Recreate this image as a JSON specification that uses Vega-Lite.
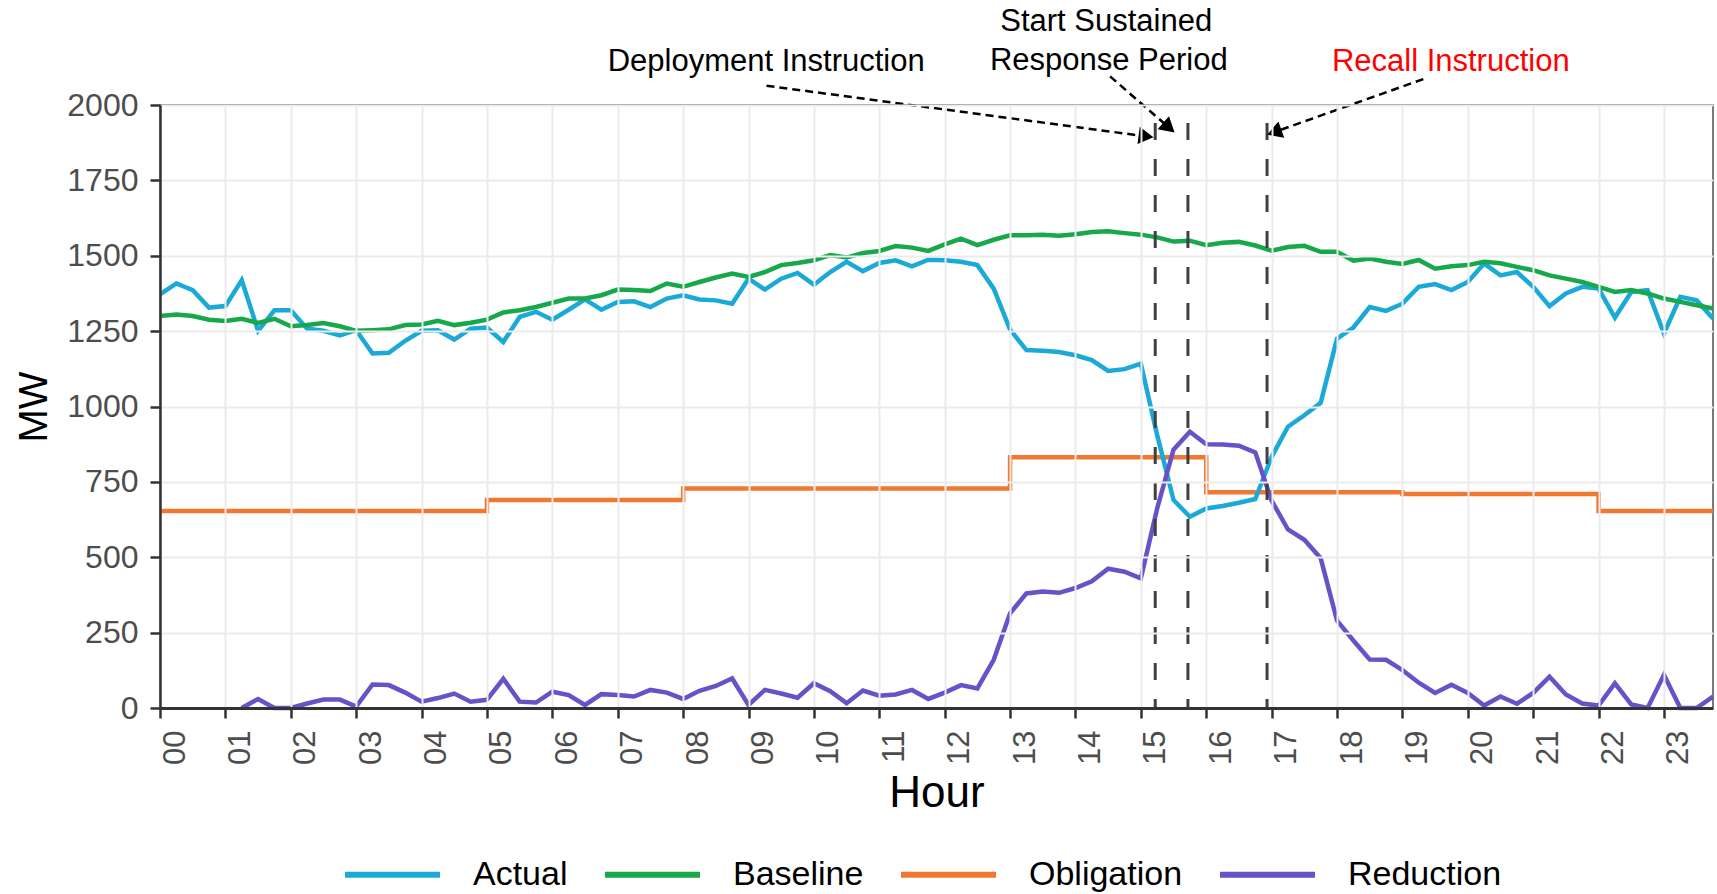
{
  "$schema": "https://vega.github.io/schema/vega-lite/v6.json",
  "width": 1553,
  "height": 603,
  "autosize": {"type": "none"},
  "padding": {"left": 160, "top": 105, "right": 4, "bottom": 186},
  "background": "white",
  "config": {
    "font": "Liberation Sans",
    "view": {"stroke": "#4d4d4d", "strokeWidth": 1.5},
    "legend": {"padding": 0}
  },
  "datasets": {
    "series": [
      {"h":0,"Actual":1372,"Baseline":1300,"Obligation":653,"Reduction":null},
      {"h":0.25,"Actual":1408,"Baseline":1305,"Obligation":653,"Reduction":null},
      {"h":0.5,"Actual":1386,"Baseline":1300,"Obligation":653,"Reduction":null},
      {"h":0.75,"Actual":1328,"Baseline":1288,"Obligation":653,"Reduction":null},
      {"h":1,"Actual":1333,"Baseline":1284,"Obligation":653,"Reduction":null},
      {"h":1.25,"Actual":1419,"Baseline":1291,"Obligation":653,"Reduction":0},
      {"h":1.5,"Actual":1251,"Baseline":1277,"Obligation":653,"Reduction":30},
      {"h":1.75,"Actual":1319,"Baseline":1291,"Obligation":653,"Reduction":0},
      {"h":2,"Actual":1319,"Baseline":1266,"Obligation":653,"Reduction":0},
      {"h":2.25,"Actual":1258,"Baseline":1270,"Obligation":653,"Reduction":15},
      {"h":2.5,"Actual":1251,"Baseline":1277,"Obligation":653,"Reduction":28},
      {"h":2.75,"Actual":1236,"Baseline":1266,"Obligation":653,"Reduction":28},
      {"h":3,"Actual":1253,"Baseline":1251,"Obligation":653,"Reduction":5},
      {"h":3.25,"Actual":1176,"Baseline":1253,"Obligation":653,"Reduction":78},
      {"h":3.5,"Actual":1178,"Baseline":1256,"Obligation":653,"Reduction":76},
      {"h":3.75,"Actual":1218,"Baseline":1270,"Obligation":653,"Reduction":51},
      {"h":4,"Actual":1251,"Baseline":1272,"Obligation":653,"Reduction":21},
      {"h":4.25,"Actual":1253,"Baseline":1284,"Obligation":653,"Reduction":33},
      {"h":4.5,"Actual":1222,"Baseline":1270,"Obligation":653,"Reduction":48},
      {"h":4.75,"Actual":1258,"Baseline":1278,"Obligation":653,"Reduction":21},
      {"h":5,"Actual":1262,"Baseline":1288,"Obligation":690,"Reduction":27},
      {"h":5.25,"Actual":1214,"Baseline":1312,"Obligation":690,"Reduction":97},
      {"h":5.5,"Actual":1297,"Baseline":1319,"Obligation":690,"Reduction":21},
      {"h":5.75,"Actual":1314,"Baseline":1330,"Obligation":690,"Reduction":18},
      {"h":6,"Actual":1288,"Baseline":1344,"Obligation":690,"Reduction":54},
      {"h":6.25,"Actual":1321,"Baseline":1358,"Obligation":690,"Reduction":43},
      {"h":6.5,"Actual":1355,"Baseline":1358,"Obligation":690,"Reduction":10},
      {"h":6.75,"Actual":1321,"Baseline":1369,"Obligation":690,"Reduction":46},
      {"h":7,"Actual":1347,"Baseline":1388,"Obligation":690,"Reduction":43},
      {"h":7.25,"Actual":1349,"Baseline":1386,"Obligation":690,"Reduction":38},
      {"h":7.5,"Actual":1330,"Baseline":1383,"Obligation":690,"Reduction":60},
      {"h":7.75,"Actual":1358,"Baseline":1408,"Obligation":690,"Reduction":51},
      {"h":8,"Actual":1369,"Baseline":1397,"Obligation":728,"Reduction":30},
      {"h":8.25,"Actual":1355,"Baseline":1413,"Obligation":728,"Reduction":57},
      {"h":8.5,"Actual":1352,"Baseline":1428,"Obligation":728,"Reduction":73},
      {"h":8.75,"Actual":1341,"Baseline":1441,"Obligation":728,"Reduction":98},
      {"h":9,"Actual":1424,"Baseline":1430,"Obligation":728,"Reduction":10},
      {"h":9.25,"Actual":1388,"Baseline":1446,"Obligation":728,"Reduction":60},
      {"h":9.5,"Actual":1424,"Baseline":1469,"Obligation":728,"Reduction":48},
      {"h":9.75,"Actual":1443,"Baseline":1476,"Obligation":728,"Reduction":34},
      {"h":10,"Actual":1404,"Baseline":1485,"Obligation":728,"Reduction":82},
      {"h":10.25,"Actual":1446,"Baseline":1502,"Obligation":728,"Reduction":56},
      {"h":10.5,"Actual":1480,"Baseline":1494,"Obligation":728,"Reduction":16},
      {"h":10.75,"Actual":1449,"Baseline":1509,"Obligation":728,"Reduction":58},
      {"h":11,"Actual":1476,"Baseline":1516,"Obligation":728,"Reduction":41},
      {"h":11.25,"Actual":1485,"Baseline":1532,"Obligation":728,"Reduction":45},
      {"h":11.5,"Actual":1465,"Baseline":1527,"Obligation":728,"Reduction":60},
      {"h":11.75,"Actual":1487,"Baseline":1516,"Obligation":728,"Reduction":30},
      {"h":12,"Actual":1485,"Baseline":1538,"Obligation":728,"Reduction":51},
      {"h":12.25,"Actual":1480,"Baseline":1557,"Obligation":728,"Reduction":76},
      {"h":12.5,"Actual":1469,"Baseline":1535,"Obligation":728,"Reduction":65},
      {"h":12.75,"Actual":1391,"Baseline":1553,"Obligation":728,"Reduction":160},
      {"h":13,"Actual":1255,"Baseline":1568,"Obligation":832,"Reduction":314},
      {"h":13.25,"Actual":1187,"Baseline":1568,"Obligation":832,"Reduction":380},
      {"h":13.5,"Actual":1185,"Baseline":1570,"Obligation":832,"Reduction":386},
      {"h":13.75,"Actual":1181,"Baseline":1566,"Obligation":832,"Reduction":382},
      {"h":14,"Actual":1170,"Baseline":1571,"Obligation":832,"Reduction":398},
      {"h":14.25,"Actual":1154,"Baseline":1579,"Obligation":832,"Reduction":420},
      {"h":14.5,"Actual":1118,"Baseline":1581,"Obligation":832,"Reduction":462},
      {"h":14.75,"Actual":1124,"Baseline":1575,"Obligation":832,"Reduction":452},
      {"h":15,"Actual":1142,"Baseline":1570,"Obligation":832,"Reduction":430},
      {"h":15.25,"Actual":905,"Baseline":1561,"Obligation":832,"Reduction":662},
      {"h":15.5,"Actual":690,"Baseline":1547,"Obligation":832,"Reduction":857},
      {"h":15.75,"Actual":634,"Baseline":1550,"Obligation":832,"Reduction":916},
      {"h":16,"Actual":662,"Baseline":1535,"Obligation":716,"Reduction":875},
      {"h":16.25,"Actual":670,"Baseline":1543,"Obligation":716,"Reduction":874},
      {"h":16.5,"Actual":681,"Baseline":1546,"Obligation":716,"Reduction":870},
      {"h":16.75,"Actual":693,"Baseline":1534,"Obligation":716,"Reduction":848},
      {"h":17,"Actual":833,"Baseline":1517,"Obligation":716,"Reduction":688},
      {"h":17.25,"Actual":933,"Baseline":1529,"Obligation":716,"Reduction":592},
      {"h":17.5,"Actual":971,"Baseline":1533,"Obligation":716,"Reduction":558},
      {"h":17.75,"Actual":1012,"Baseline":1513,"Obligation":716,"Reduction":497},
      {"h":18,"Actual":1225,"Baseline":1513,"Obligation":716,"Reduction":290},
      {"h":18.25,"Actual":1262,"Baseline":1484,"Obligation":716,"Reduction":224},
      {"h":18.5,"Actual":1330,"Baseline":1491,"Obligation":716,"Reduction":161},
      {"h":18.75,"Actual":1317,"Baseline":1480,"Obligation":716,"Reduction":160},
      {"h":19,"Actual":1341,"Baseline":1473,"Obligation":710,"Reduction":126},
      {"h":19.25,"Actual":1397,"Baseline":1486,"Obligation":710,"Reduction":84},
      {"h":19.5,"Actual":1406,"Baseline":1457,"Obligation":710,"Reduction":50},
      {"h":19.75,"Actual":1386,"Baseline":1465,"Obligation":710,"Reduction":77},
      {"h":20,"Actual":1413,"Baseline":1469,"Obligation":710,"Reduction":50},
      {"h":20.25,"Actual":1474,"Baseline":1480,"Obligation":710,"Reduction":8},
      {"h":20.5,"Actual":1435,"Baseline":1475,"Obligation":710,"Reduction":38},
      {"h":20.75,"Actual":1446,"Baseline":1463,"Obligation":710,"Reduction":14},
      {"h":21,"Actual":1397,"Baseline":1452,"Obligation":710,"Reduction":50},
      {"h":21.25,"Actual":1333,"Baseline":1435,"Obligation":710,"Reduction":104},
      {"h":21.5,"Actual":1375,"Baseline":1424,"Obligation":710,"Reduction":45},
      {"h":21.75,"Actual":1397,"Baseline":1413,"Obligation":710,"Reduction":15},
      {"h":22,"Actual":1391,"Baseline":1397,"Obligation":653,"Reduction":8},
      {"h":22.25,"Actual":1295,"Baseline":1380,"Obligation":653,"Reduction":82},
      {"h":22.5,"Actual":1380,"Baseline":1386,"Obligation":653,"Reduction":12},
      {"h":22.75,"Actual":1386,"Baseline":1375,"Obligation":653,"Reduction":0},
      {"h":23,"Actual":1242,"Baseline":1358,"Obligation":653,"Reduction":110},
      {"h":23.25,"Actual":1364,"Baseline":1347,"Obligation":653,"Reduction":0},
      {"h":23.5,"Actual":1352,"Baseline":1336,"Obligation":653,"Reduction":0},
      {"h":23.75,"Actual":1292,"Baseline":1325,"Obligation":653,"Reduction":38}
    ],
    "events": [
      {"event": "Deployment Instruction", "h": 15.22},
      {"event": "Start Sustained Response Period", "h": 15.72},
      {"event": "Recall Instruction", "h": 16.93}
    ],
    "arrows": [
      {"name": "dep", "h": 9.275, "MW": 2064, "h2": 15.08, "MW2": 1896},
      {"name": "sus", "h": 14.53, "MW": 2095, "h2": 15.43, "MW2": 1925},
      {"name": "rec", "h": 19.32, "MW": 2086, "h2": 17.04, "MW2": 1910}
    ],
    "labels": [
      {"label": "Start Sustained", "h": 14.47, "MW": 2274},
      {"label": "Response Period", "h": 14.51, "MW": 2145},
      {"label": "Deployment Instruction", "h": 9.27, "MW": 2142},
      {"label": "Recall Instruction", "h": 19.74, "MW": 2142}
    ]
  },
  "layer": [
    {
      "data": {"name": "series"},
      "transform": [{"fold": ["Obligation"], "as": ["series", "MW"]}],
      "mark": {"type": "line", "interpolate": "step-after", "strokeWidth": 4.5},
      "encoding": {
        "x": {
          "field": "h", "type": "quantitative",
          "scale": {"domain": [0, 23.75], "nice": false, "zero": false},
          "axis": {
            "title": "Hour",
            "values": [0,0.5,1,1.5,2,2.5,3,3.5,4,4.5,5,5.5,6,6.5,7,7.5,8,8.5,9,9.5,10,10.5,11,11.5,12,12.5,13,13.5,14,14.5,15,15.5,16,16.5,17,17.5,18,18.5,19,19.5,20,20.5,21,21.5,22,22.5,23,23.5],
            "labelExpr": "datum.value % 1 === 0 ? (datum.value < 10 ? '0' + datum.value : '' + datum.value) : ''",
            "labelAngle": 270,
            "labelAlign": "right",
            "labelBaseline": "top",
            "labelFontSize": 31,
            "labelColor": "#4d4d4d",
            "labelPadding": 12,
            "labelOverlap": false,
            "labelFlush": false,
            "labelBound": false,
            "tickSize": 10,
            "tickWidth": 2.5,
            "tickColor": "#333333",
            "tickOpacity": {"condition": {"test": "datum.value % 1 === 0", "value": 1}, "value": 0},
            "grid": true,
            "gridColor": "#ebebeb",
            "gridWidth": {"condition": {"test": "datum.value % 1 === 0", "value": 2}, "value": 1.2},
            "domainColor": "#333333",
            "domainWidth": 3,
            "titleFontSize": 44,
            "titleFontWeight": "normal",
            "titleColor": "black",
            "titlePadding": 7,
            "zindex": 1
          }
        },
        "y": {
          "field": "MW", "type": "quantitative",
          "scale": {"domain": [0, 2000], "nice": false},
          "axis": {
            "title": "MW",
            "values": [0,125,250,375,500,625,750,875,1000,1125,1250,1375,1500,1625,1750,1875,2000],
            "labelExpr": "datum.value % 250 === 0 ? format(datum.value, 'd') : ''",
            "labelFontSize": 32,
            "labelColor": "#4d4d4d",
            "labelPadding": 12,
            "labelOverlap": false,
            "labelFlush": false,
            "labelBound": false,
            "tickSize": 10,
            "tickWidth": 2.5,
            "tickColor": "#333333",
            "tickOpacity": {"condition": {"test": "datum.value % 250 === 0", "value": 1}, "value": 0},
            "grid": true,
            "gridColor": "#ebebeb",
            "gridWidth": {"condition": {"test": "datum.value % 250 === 0", "value": 2}, "value": 1.2},
            "domainColor": "#333333",
            "domainWidth": 2.5,
            "titleFontSize": 40,
            "titleFontWeight": "normal",
            "titleColor": "black",
            "titlePadding": 12,
            "zindex": 1
          }
        },
        "color": {
          "field": "series", "type": "nominal",
          "scale": {"domain": ["Actual", "Baseline", "Obligation", "Reduction"], "range": ["#1BA9D8", "#17A84B", "#F07830", "#6753C7"]},
          "legend": {
            "title": null,
            "orient": "none",
            "legendX": 182,
            "legendY": 719,
            "direction": "horizontal",
            "symbolType": "stroke",
            "symbolSize": 9025,
            "symbolStrokeWidth": 6,
            "labelFontSize": 34,
            "labelColor": "black",
            "labelOffset": 30,
            "columnPadding": 25,
            "labelLimit": 400
          }
        }
      }
    },
    {
      "data": {"name": "series"},
      "transform": [{"fold": ["Actual", "Baseline", "Reduction"], "as": ["series", "MW"]}],
      "mark": {"type": "line", "strokeWidth": 4.5},
      "encoding": {
        "x": {"field": "h", "type": "quantitative"},
        "y": {"field": "MW", "type": "quantitative"},
        "color": {"field": "series", "type": "nominal"}
      }
    },
    {
      "data": {"name": "events"},
      "mark": {"type": "rule", "color": "#404040", "strokeWidth": 3, "strokeDash": [17, 19]},
      "encoding": {
        "x": {"field": "h", "type": "quantitative"},
        "y": {"datum": 1940, "type": "quantitative"},
        "y2": {"datum": 0}
      }
    },
    {
      "data": {"name": "arrows"},
      "mark": {"type": "rule", "color": "black", "strokeWidth": 2.5, "strokeDash": [8, 5]},
      "encoding": {
        "x": {"field": "h", "type": "quantitative"},
        "y": {"field": "MW", "type": "quantitative"},
        "x2": {"field": "h2"},
        "y2": {"field": "MW2"}
      }
    },
    {
      "data": {"name": "arrows"},
      "transform": [{"filter": "datum.name === 'dep'"}],
      "mark": {"type": "point", "shape": "triangle-right", "filled": true, "color": "black", "opacity": 1, "size": 300, "angle": 7.6},
      "encoding": {
        "x": {"field": "h2", "type": "quantitative"},
        "y": {"field": "MW2", "type": "quantitative"}
      }
    },
    {
      "data": {"name": "arrows"},
      "transform": [{"filter": "datum.name === 'sus'"}],
      "mark": {"type": "point", "shape": "triangle-right", "filled": true, "color": "black", "opacity": 1, "size": 300, "angle": 41},
      "encoding": {
        "x": {"field": "h2", "type": "quantitative"},
        "y": {"field": "MW2", "type": "quantitative"}
      }
    },
    {
      "data": {"name": "arrows"},
      "transform": [{"filter": "datum.name === 'rec'"}],
      "mark": {"type": "point", "shape": "triangle-right", "filled": true, "color": "black", "opacity": 1, "size": 300, "angle": 160.5},
      "encoding": {
        "x": {"field": "h2", "type": "quantitative"},
        "y": {"field": "MW2", "type": "quantitative"}
      }
    },
    {
      "data": {"name": "labels"},
      "mark": {"type": "text", "fontSize": 31, "align": "center", "baseline": "middle"},
      "encoding": {
        "x": {"field": "h", "type": "quantitative"},
        "y": {"field": "MW", "type": "quantitative"},
        "text": {"field": "label"},
        "color": {"condition": {"test": "datum.label === 'Recall Instruction'", "value": "#FF0000"}, "value": "black"}
      }
    }
  ]
}
